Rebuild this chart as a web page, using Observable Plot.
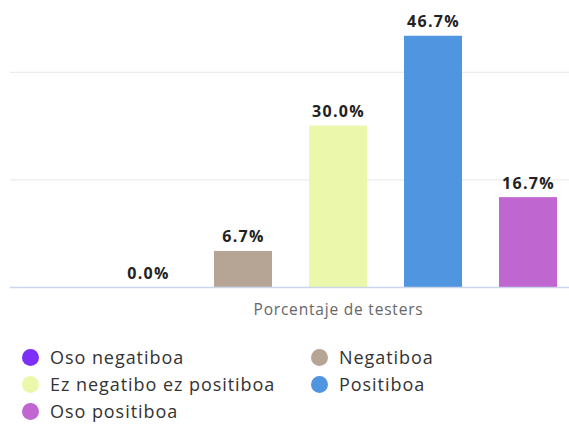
<!DOCTYPE html>
<html>
<head>
<meta charset="utf-8">
<script src="https://cdn.jsdelivr.net/npm/d3@7"></script>
<script src="https://cdn.jsdelivr.net/npm/@observablehq/plot@0.6"></script>
<style>
  html, body { margin: 0; padding: 0; background: #fff; overflow: hidden; }
  body { width: 569px; height: 428px; font-family: "Open Sans", sans-serif; }
  #legend { display: grid; grid-template-columns: 289px 250px; row-gap: 5px; padding-left: 22px; margin-top: 18px; }
  .item { display: flex; align-items: center; font-size: 18px; letter-spacing: 0.95px; color: #333; height: 22px; white-space: nowrap; }
  .dot { width: 17px; height: 17px; border-radius: 50%; margin-right: 11px; flex: none; }
</style>
</head>
<body>
<div id="chart"></div>
<div id="legend"></div>
<script>
const category = "Porcentaje de testers";
const series = ["Oso negatiboa", "Negatiboa", "Ez negatibo ez positiboa", "Positiboa", "Oso positiboa"];
const values = [0.0, 6.7, 30.0, 46.7, 16.7];
const colors = ["#7b2ff7", "#b6a594", "#ebf8ab", "#4f95e0", "#c066d1"];
const gridTicks = [20, 40];

const data = series.map((s, i) => ({series: s, value: values[i], category}));

const chart = Plot.plot({
  width: 569,
  height: 328,
  marginLeft: 10,
  marginRight: 0,
  marginTop: 18,
  marginBottom: 41,
  style: {fontFamily: "Open Sans, sans-serif", background: "#fff"},
  x: {domain: series, range: [98.75, 576.25], paddingInner: 0.39, paddingOuter: 0.195, axis: null},
  y: {domain: [0, 50], axis: null},
  color: {domain: series, range: colors},
  marks: [
    Plot.ruleY(gridTicks, {stroke: "#e6e6e6", strokeWidth: 1}),
    Plot.barY(data, {x: "series", y: "value", fill: "series"}),
    Plot.ruleY([0], {stroke: "#ccd6eb", strokeWidth: 1.5}),
    Plot.text(data, {x: "series", y: "value", text: d => d.value.toFixed(1) + "%", lineAnchor: "bottom", dy: -9, fontSize: 16, fontWeight: "bold", fill: "#222"}),
    Plot.text([category], {x: () => series[2], y: () => 0, text: d => d, lineAnchor: "top", dy: 16, fontSize: 15.5, fill: "#666"})
  ]
});
chart.querySelectorAll("text").forEach(t => {
  if (t.textContent.endsWith("%")) t.style.letterSpacing = "1.3px";
  else t.style.letterSpacing = "0.8px";
});
document.getElementById("chart").appendChild(chart);

const legend = document.getElementById("legend");
series.forEach((s, i) => {
  const item = document.createElement("div");
  item.className = "item";
  const dot = document.createElement("span");
  dot.className = "dot";
  dot.style.background = colors[i];
  const label = document.createElement("span");
  label.textContent = s;
  item.appendChild(dot);
  item.appendChild(label);
  legend.appendChild(item);
});
</script>
</body>
</html>
